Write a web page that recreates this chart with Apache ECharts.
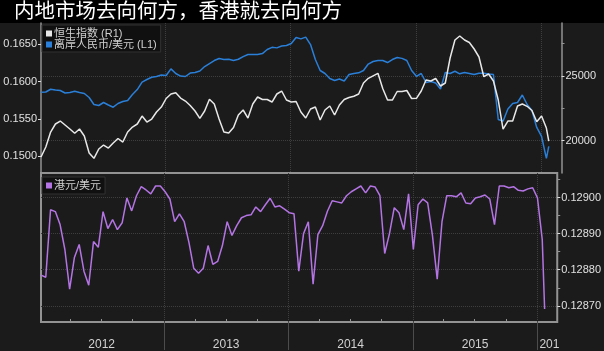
<!DOCTYPE html>
<html>
<head>
<meta charset="utf-8">
<script src="https://cdn.jsdelivr.net/npm/echarts@6/dist/echarts.min.js"></script>
<style>
  html, body { margin: 0; padding: 0; background: #1b1b1b; }
  #chart { width: 604px; height: 351px; }
</style>
</head>
<body>
<div id="chart"></div>
<script>
  const DAY = 24 * 3600 * 1000

  // 每两周一个点, 最后一点 2016-01-22
  const dates = []
  for (let t = Date.UTC(2012, 0, 6); t <= Date.UTC(2016, 0, 15); t += 14 * DAY) {
    dates.push(t)
  }
  dates.push(Date.UTC(2016, 0, 22))

  // 恒生指数 (R1)
  const hsi = [
    18739, 19512, 20671, 21290, 21521, 21212, 20903, 20571, 20903, 20362,
    19048, 18638, 19357, 19666, 19434, 19821, 20169, 19898, 20671, 21058,
    21290, 21908, 21444, 21676, 22217, 22604, 23261, 23609, 23709, 23299,
    23067, 22720, 22294, 21730, 22294, 23200, 22840, 21676, 20671, 20594,
    21019, 21985, 22372, 21753, 22836, 23377, 23183, 23183, 22990, 23609,
    23840, 23145, 22990, 23029, 22217, 21753, 22449, 22604, 21599, 22372,
    22681, 21985, 22758, 23183, 23338, 23439, 23609, 24459, 24822, 25015,
    25209, 24034, 23145, 23145, 23802, 23802, 23879, 23261, 23276, 23840,
    24691, 24614, 24807, 24227, 24459, 26391, 27783, 28092, 27783, 27590,
    27087, 26469, 24946, 25155, 24614, 23145, 20903, 21521, 21521, 22681,
    22836, 22658, 22333, 21467, 21908, 20980, 19975
  ]

  // 离岸人民币/美元 (L1)
  const cnh = [
    0.15857, 0.15860, 0.15897, 0.15887, 0.15880, 0.15847, 0.15853, 0.15871, 0.15853, 0.15840,
    0.15787, 0.15693, 0.15680, 0.15720, 0.15687, 0.15657, 0.15707, 0.15733, 0.15747, 0.15827,
    0.15893, 0.15993, 0.16027, 0.16057, 0.16067, 0.16087, 0.16080, 0.16169, 0.16107, 0.16073,
    0.16067, 0.16113, 0.16120, 0.16140, 0.16200, 0.16240, 0.16280, 0.16307, 0.16293, 0.16296,
    0.16280, 0.16297, 0.16333, 0.16360, 0.16360, 0.16360, 0.16373, 0.16427, 0.16456, 0.16449,
    0.16473, 0.16480, 0.16507, 0.16587, 0.16569, 0.16593, 0.16493, 0.16293, 0.16147, 0.16107,
    0.16040, 0.16013, 0.16033, 0.16007, 0.16093, 0.16107, 0.16116, 0.16147, 0.16233, 0.16267,
    0.16280, 0.16280, 0.16253, 0.16293, 0.16320, 0.16309, 0.16280, 0.16147, 0.16069, 0.16107,
    0.15987, 0.16000, 0.15980, 0.15900, 0.16120, 0.16107, 0.16137, 0.16103, 0.16120, 0.16107,
    0.16093, 0.16111, 0.16111, 0.16100, 0.16093, 0.15493, 0.15471, 0.15633, 0.15707, 0.15720,
    0.15820, 0.15693, 0.15613, 0.15387, 0.15267, 0.14973, 0.15133
  ]

  // 港元/美元
  const hkd = [
    0.128785, 0.128779, 0.128966, 0.128961, 0.128925, 0.128856, 0.128746, 0.128834, 0.128870, 0.128796,
    0.128757, 0.128878, 0.128862, 0.128961, 0.128914, 0.128939, 0.128911, 0.128930, 0.128999, 0.128963,
    0.129005, 0.129030, 0.129021, 0.129010, 0.129032, 0.129032, 0.129016, 0.128996, 0.128933, 0.128955,
    0.128933, 0.128875, 0.128804, 0.128790, 0.128804, 0.128867, 0.128815, 0.128823, 0.128867, 0.128933,
    0.128895, 0.128922, 0.128944, 0.128950, 0.128952, 0.128974, 0.128961, 0.128980, 0.128998, 0.128974,
    0.128977, 0.128968, 0.128958, 0.128955, 0.128796, 0.128900, 0.128933, 0.128760, 0.128897, 0.128922,
    0.128962, 0.128991, 0.128988, 0.128985, 0.129005, 0.129016, 0.129024, 0.129032, 0.129013, 0.129032,
    0.129029, 0.129005, 0.128845, 0.128900, 0.128972, 0.128958, 0.128911, 0.129010, 0.128856, 0.128980,
    0.128996, 0.128985, 0.128895, 0.128774, 0.128933, 0.129005, 0.129005, 0.129002, 0.129013, 0.128985,
    0.128983, 0.128999, 0.129002, 0.129007, 0.128996, 0.128925, 0.129032, 0.129032, 0.129027, 0.129030,
    0.129020, 0.129018, 0.129024, 0.129027, 0.128999, 0.128884, 0.128691
  ]

  const cnhTicks = [0.1500, 0.1550, 0.1600, 0.1650]
  const hsiTicks = [20000, 25000]
  const hsiMinorTicks = [22500, 27500]
  const hkdTicks = [0.12870, 0.12880, 0.12890, 0.12900]
  const hkdMinorTicks = [0.12875, 0.12885, 0.12895, 0.12905]
  const yearLines = [2013, 2014, 2015, 2016].map(y => Date.UTC(y, 0, 1))
  const quarterTicks = [2012, 2013, 2014, 2015].flatMap(y => [3, 6, 9].map(m => Date.UTC(y, m, 1)))
  const yearLabelPos = [
    Date.UTC(2012, 6, 2), Date.UTC(2013, 6, 2), Date.UTC(2014, 6, 2),
    Date.UTC(2015, 6, 2), Date.UTC(2016, 1, 5)
  ]

  const xMin = Date.UTC(2012, 0, 6)
  const xMax = Date.UTC(2016, 1, 28)
  const font = 'Liberation Sans, Noto Sans CJK SC, sans-serif'
  const frame = '#939393'
  const gridLine = '#3e3e3e'

  const pairs = vals => dates.map((d, i) => [d, vals[i]])

  const chart = echarts.init(document.getElementById('chart'))
  chart.setOption({
    animation: false,
    backgroundColor: '#1b1b1b',
    graphic: [{
      type: 'rect',
      z: -10,
      shape: { x: 0, y: 0, width: 604, height: 23 },
      style: { fill: '#000' }
    }],
    title: {
      text: '内地市场去向何方，香港就去向何方',
      left: 14,
      top: 0,
      padding: 0,
      textStyle: {
        color: '#fff',
        fontSize: 20.5,
        fontWeight: 'normal',
        fontFamily: 'Noto Sans CJK SC'
      }
    },
    legend: [
      {
        data: ['恒生指数 (R1)', '离岸人民币/美元 (L1)'],
        orient: 'vertical',
        left: 42,
        top: 25,
        icon: 'rect',
        itemWidth: 6,
        itemHeight: 6,
        itemGap: 0,
        padding: [3, 4, 2, 4],
        backgroundColor: '#101010',
        borderColor: '#333',
        borderWidth: 1,
        selectedMode: false,
        textStyle: { color: '#d0d0d0', fontSize: 11, fontFamily: font, padding: [0, 0, 0, -3] }
      },
      {
        data: ['港元/美元'],
        left: 42,
        top: 177,
        icon: 'rect',
        itemWidth: 6,
        itemHeight: 6,
        padding: [3, 4, 3, 4],
        backgroundColor: '#101010',
        borderColor: '#333',
        borderWidth: 1,
        selectedMode: false,
        textStyle: { color: '#d0d0d0', fontSize: 11, fontFamily: font, padding: [0, 0, 0, -3] }
      }
    ],
    grid: [
      { left: 41, right: 42.5, top: 23, height: 150 },
      { left: 41, right: 42.5, top: 173, height: 150, show: true, borderColor: frame, borderWidth: 2 }
    ],
    xAxis: [
      {
        // 上图年份分隔线
        type: 'value', gridIndex: 0, position: 'bottom', min: xMin, max: xMax,
        axisLine: { show: false },
        axisTick: { show: false, customValues: yearLines },
        axisLabel: { show: false },
        splitLine: { show: true, lineStyle: { color: gridLine, type: 'dotted' } }
      },
      {
        // 下图年份分隔线, 向下延伸到标签区
        type: 'value', gridIndex: 1, position: 'bottom', min: xMin, max: xMax,
        axisLine: { show: false },
        axisTick: { show: true, customValues: yearLines, length: 28, lineStyle: { color: '#4c4c4c' } },
        axisLabel: { show: false },
        splitLine: { show: true, lineStyle: { color: gridLine, type: 'dotted' } }
      },
      {
        // 季度刻度和年份标签
        type: 'value', gridIndex: 1, position: 'bottom', min: xMin, max: xMax,
        axisLine: { show: false },
        axisTick: { show: true, inside: true, length: 3, customValues: quarterTicks, lineStyle: { color: frame } },
        axisLabel: {
          customValues: yearLabelPos,
          color: '#d2d2d2',
          fontSize: 12,
          fontFamily: font,
          margin: 17,
          formatter: v => {
            const y = new Date(v).getUTCFullYear()
            return y === 2016 ? '201' : String(y)
          }
        },
        splitLine: { show: false }
      }
    ],
    yAxis: [
      {
        type: 'value', gridIndex: 0, position: 'left',
        min: 0.14779, max: 0.16781,
        axisLine: { show: true, lineStyle: { color: frame, width: 1.5 } },
        axisTick: { show: true, length: 3, customValues: cnhTicks, lineStyle: { color: '#ddd' } },
        axisLabel: {
          customValues: cnhTicks, color: '#e0e0e0', fontSize: 11, fontFamily: font, margin: 4,
          formatter: v => v.toFixed(4)
        },
        splitLine: { show: false }
      },
      {
        type: 'value', gridIndex: 0, position: 'right',
        min: 17504, max: 29096,
        axisLine: { show: true, lineStyle: { color: frame, width: 1.5 } },
        axisTick: { show: true, length: 3, customValues: hsiTicks, lineStyle: { color: '#ddd' } },
        axisLabel: {
          customValues: hsiTicks, color: '#e0e0e0', fontSize: 11, fontFamily: font, margin: 4,
          formatter: v => String(v)
        },
        splitLine: { show: true, lineStyle: { color: gridLine, type: 'dotted' } }
      },
      {
        type: 'value', gridIndex: 0, position: 'right',
        min: 17504, max: 29096,
        axisLine: { show: false },
        axisTick: { show: true, length: 3, customValues: hsiMinorTicks, lineStyle: { color: frame } },
        axisLabel: { show: false },
        splitLine: { show: false }
      },
      {
        type: 'value', gridIndex: 1, position: 'right',
        min: 0.1286551, max: 0.1290680,
        axisLine: { show: false },
        axisTick: { show: true, length: 3, customValues: hkdTicks, lineStyle: { color: '#ddd' } },
        axisLabel: {
          customValues: hkdTicks, color: '#e0e0e0', fontSize: 11, fontFamily: font, margin: 4,
          formatter: v => v.toFixed(5)
        },
        splitLine: { show: true, lineStyle: { color: gridLine, type: 'dotted' } }
      },
      {
        type: 'value', gridIndex: 1, position: 'right',
        min: 0.1286551, max: 0.1290680,
        axisLine: { show: false },
        axisTick: { show: true, length: 3, customValues: hkdMinorTicks, lineStyle: { color: frame } },
        axisLabel: { show: false },
        splitLine: { show: false }
      }
    ],
    series: [
      {
        name: '离岸人民币/美元 (L1)',
        type: 'line',
        xAxisIndex: 0,
        yAxisIndex: 0,
        data: pairs(cnh),
        showSymbol: false,
        itemStyle: { color: '#2a7fd8' },
        lineStyle: { color: '#2a7fd8', width: 1.5 }
      },
      {
        name: '恒生指数 (R1)',
        type: 'line',
        xAxisIndex: 0,
        yAxisIndex: 1,
        data: pairs(hsi),
        showSymbol: false,
        itemStyle: { color: '#e8e8e8' },
        lineStyle: { color: '#e8e8e8', width: 1.5 }
      },
      {
        name: '港元/美元',
        type: 'line',
        xAxisIndex: 2,
        yAxisIndex: 3,
        data: pairs(hkd),
        showSymbol: false,
        itemStyle: { color: '#b474e4' },
        lineStyle: { color: '#b474e4', width: 1.5 }
      }
    ]
  })
</script>
</body>
</html>
